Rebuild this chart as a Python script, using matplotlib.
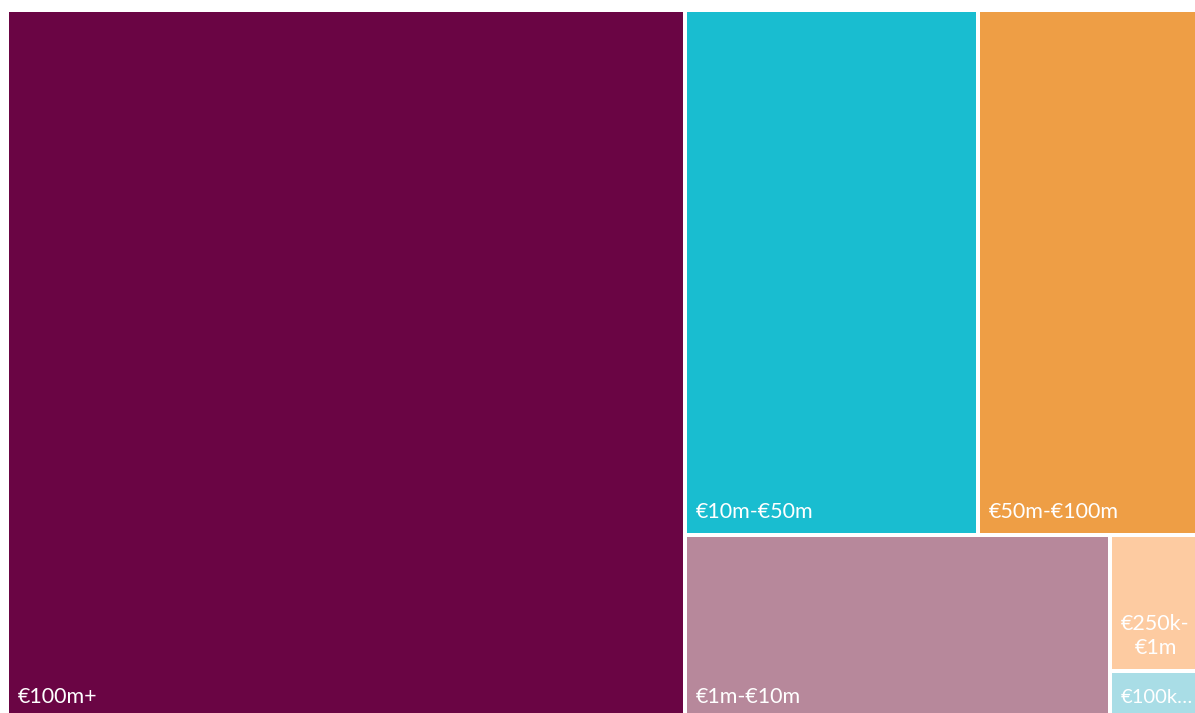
import matplotlib.pyplot as plt
from matplotlib.patches import Rectangle

# Share of total by band (%)
labels = ["€100m+", "€10m-€50m", "€50m-€100m", "€1m-€10m", "€250k-\n€1m", "€100k…"]
values = [57.0, 18.2, 13.6, 9.3, 1.4, 0.5]
colors = ["#6A0544", "#19BDD0", "#EE9E45", "#B7889B", "#FDCBA1", "#A9DDE6"]

# Nesting of the treemap: "h" splits left/right, "v" splits top/bottom
layout = ("h", [0, ("v", [("h", [1, 2]), ("h", [3, ("v", [4, 5])])])])

W, H = 1195, 713
fig = plt.figure(figsize=(W / 100, H / 100), dpi=100)
ax = fig.add_axes([0, 0, 1, 1])
ax.set_xlim(0, W)
ax.set_ylim(H, 0)
ax.axis("off")


def total(node):
    if isinstance(node, int):
        return values[node]
    return sum(total(c) for c in node[1])


def place(node, x, y, w, h, out):
    if isinstance(node, int):
        out[node] = (x, y, w, h)
        return
    kind, children = node
    s = total(node)
    pos = 0.0
    for c in children:
        f = total(c) / s
        if kind == "h":
            place(c, x + pos * w, y, f * w, h, out)
        else:
            place(c, x, y + pos * h, w, f * h, out)
        pos += f


rects = {}
place(layout, 7, 10, 1190, 710, rects)

gap = 2
pad = 9
renderer = fig.canvas.get_renderer()
for i, (x, y, w, h) in rects.items():
    ax.add_patch(Rectangle((x + gap, y + gap), w - 2 * gap, h - 2 * gap,
                           facecolor=colors[i], edgecolor="none"))
    t = ax.text(x + gap + pad, y + h - 17, labels[i], color="white",
                fontsize=15.5, family="Lato", ha="left", va="baseline",
                multialignment="center", linespacing=1.3)
    # shrink the label if it runs past the visible part of its cell
    room = min(x + w, W) - (x + gap + pad) - 2
    tw = t.get_window_extent(renderer).width
    if tw > room:
        t.set_fontsize(15.5 * room / tw)

fig.savefig("out.png", dpi=100, facecolor="white")
